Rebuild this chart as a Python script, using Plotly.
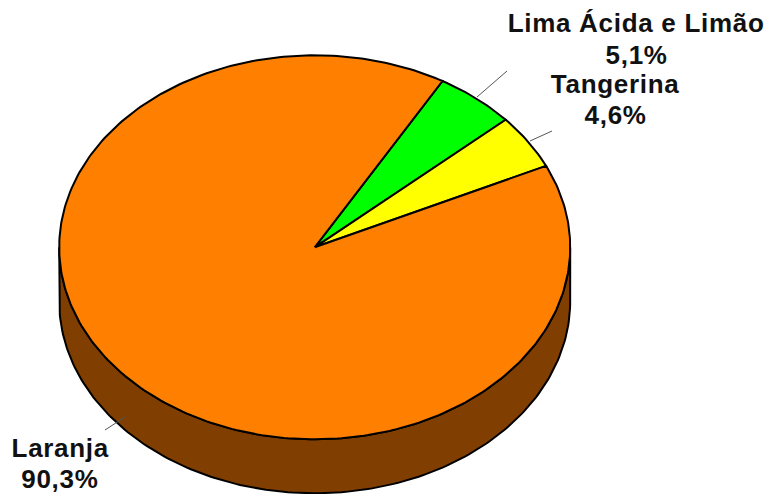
import numpy as np
import plotly.graph_objects as go

categories = ["Lima Ácida e Limão", "Tangerina", "Laranja"]
values = [5.1, 4.6, 90.3]
value_labels = ["5,1%", "4,6%", "90,3%"]
colors = ["#00FF00", "#FFFF00", "#FF8000"]
side_color = "#803F00"
start_deg = 30

W, H = 767, 494
cx, cy, rx, ry, depth = 314.7, 247.3, 255.5, 192, 54


def pt(a):
    r = np.radians(a)
    return cx + rx * np.sin(r), cy - ry * np.cos(r)


fig = go.Figure()
# side wall: visible lower half of the ellipse, extruded downwards
a = np.linspace(90, 270, 181)
xs, ys = pt(a)
fig.add_trace(go.Scatter(
    x=np.r_[xs, xs[::-1], xs[0]], y=np.r_[ys, ys[::-1] + depth, ys[0]],
    mode="lines", fill="toself", fillcolor=side_color,
    line=dict(color="black", width=2), hoverinfo="skip", showlegend=False))

total = sum(values)
spans = np.array(values) / total * 360
starts = start_deg + np.r_[0, np.cumsum(spans)[:-1]]
leaders = [((477, 97), (507, 71)), ((530, 141), (552, 131)), ((125, 417), (105, 430))]
for (p0, p1) in leaders:
    fig.add_trace(go.Scatter(x=[p0[0], p1[0]], y=[p0[1], p1[1]], mode="lines",
                             line=dict(color="#555555", width=1), hoverinfo="skip", showlegend=False))

# slices
for name, s, sp, col in zip(categories, starts, spans, colors):
    a = np.linspace(s, s + sp, max(int(sp), 2) + 1)
    xs, ys = pt(a)
    fig.add_trace(go.Scatter(
        x=np.r_[cx, xs, cx], y=np.r_[cy, ys, cy], mode="lines", fill="toself",
        fillcolor=col, line=dict(color="black", width=2), name=name, showlegend=False))

name_pos = [(636, 23), (615, 84), (60, 448)]
value_pos = [(636, 55), (615, 115), (60, 478.5)]
font = dict(family="Liberation Sans", size=26, color="#111111")
for name, lab, p, q in zip(categories, value_labels, name_pos, value_pos):
    fig.add_annotation(x=p[0], y=p[1], text=f"<b>{name}</b>", showarrow=False, font=font,
                       xanchor="center", yanchor="middle")
    fig.add_annotation(x=q[0], y=q[1], text=f"<b>{lab}</b>", showarrow=False, font=font,
                       xanchor="center", yanchor="middle")

fig.update_layout(
    width=W, height=H, margin=dict(l=0, r=0, t=0, b=0), autosize=False,
    paper_bgcolor="white", plot_bgcolor="white", showlegend=False,
    xaxis=dict(range=[0, W], visible=False, fixedrange=True),
    yaxis=dict(range=[H, 0], visible=False, fixedrange=True),
)
fig.write_html("out.html", config={"displayModeBar": False},
               post_script="document.body.style.margin='0';document.documentElement.style.overflow='hidden';"
                           "document.querySelectorAll('.annotation-text').forEach(t=>t.style.letterSpacing='0.7px');")
